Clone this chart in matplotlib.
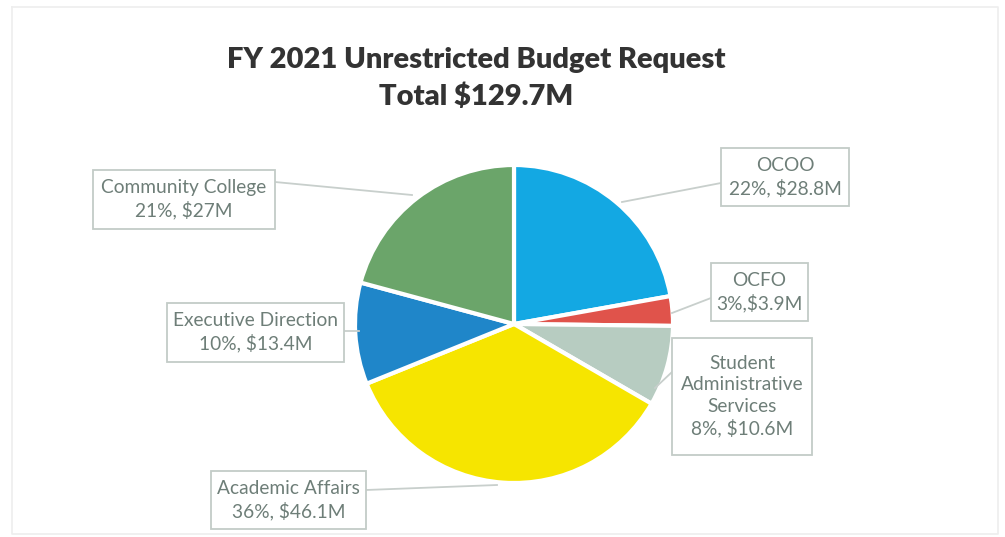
import matplotlib
matplotlib.use("Agg")
import matplotlib.pyplot as plt
from matplotlib.patches import Rectangle

plt.rcParams['font.family'] = ['Lato', 'DejaVu Sans']

# ---- data ----
categories = ["OCOO", "OCFO", "Student\nAdministrative\nServices", "Academic Affairs",
              "Executive Direction", "Community College"]
values = [28.8, 3.9, 10.6, 46.1, 13.4, 27.0]
pct_labels = ["22%, $28.8M", "3%,$3.9M", "8%, $10.6M", "36%, $46.1M",
              "10%, $13.4M", "21%, $27M"]
colors = ["#13a8e3", "#e0534b", "#b7ccc1", "#f6e500", "#1f86c9", "#6ba56a"]
title_lines = ["FY 2021 Unrestricted Budget Request", "Total $129.7M"]

W, H = 1005, 537
fig = plt.figure(figsize=(W / 100, H / 100), dpi=100)
ax = fig.add_axes([0, 0, 1, 1])

def Y(y):
    return H - y

# faint scan frame
ax.plot([12, 998, 998, 12, 12], [Y(7), Y(7), Y(534), Y(534), Y(7)],
        color="#eeeeee", lw=1.2, zorder=0)

cx, cy, r = 514, 324, 159
ax.pie(values, colors=colors, startangle=90, counterclock=False,
       center=(cx, Y(cy)), radius=r, frame=True,
       wedgeprops=dict(edgecolor="white", linewidth=3))
ax.set_xlim(0, W)
ax.set_ylim(0, H)
ax.set_aspect("equal")
ax.axis("off")

ax.text(476, Y(60), title_lines[0], ha="center", va="center", fontsize=21,
        fontweight="heavy", color="#333333")
ax.text(476, Y(97), title_lines[1], ha="center", va="center", fontsize=21,
        fontweight="heavy", color="#333333")

txt_col = "#6e7e78"
box_col = "#c3cbc7"
line_col = "#c8cfcc"

# boxes (x0, y0, x1, y1) in pixel coordinates, and leader lines
boxes = [(721, 148, 849, 206), (711, 263, 808, 321), (672, 338, 812, 455),
         (211, 471, 366, 529), (167, 303, 344, 362), (93, 170, 275, 229)]
leaders = [[(721, 183), (622, 202)], [(711, 298), (672, 313)],
           [(672, 372), (655, 388)], [(366, 490), (497, 485)],
           [(344, 331), (359, 331)], [(275, 182), (412, 195)]]

for cat, lab, (x0, y0, x1, y1), ld in zip(categories, pct_labels, boxes, leaders):
    ax.add_patch(Rectangle((x0, Y(y1)), x1 - x0, y1 - y0, facecolor="white",
                           edgecolor=box_col, lw=1.3, zorder=3))
    ax.text((x0 + x1) / 2, Y((y0 + y1) / 2), cat + "\n" + lab, ha="center",
            va="center", fontsize=13.8, color=txt_col, linespacing=1.3, zorder=4)
    ax.plot([p[0] for p in ld], [Y(p[1]) for p in ld], color=line_col, lw=1.3,
            zorder=2)

fig.savefig("out.png", dpi=100, facecolor="white")
